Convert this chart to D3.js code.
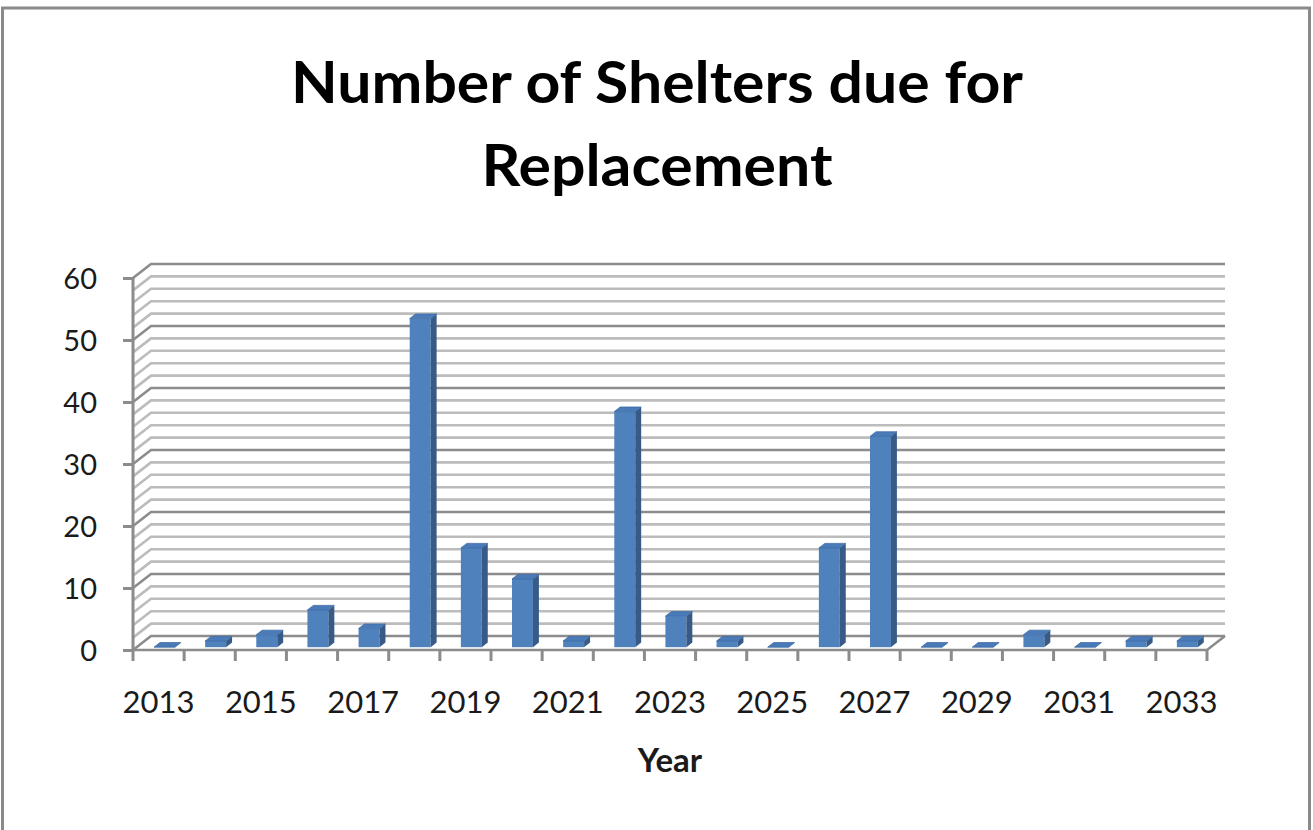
<!DOCTYPE html>
<html>
<head>
<meta charset="utf-8">
<script src="https://cdn.jsdelivr.net/npm/d3@7"></script>
<style>
  html, body { margin: 0; padding: 0; background: #fff; }
  svg { display: block; }
</style>
</head>
<body>
<script>
// ---- data ----
const years = ["2013","2014","2015","2016","2017","2018","2019","2020","2021","2022","2023",
               "2024","2025","2026","2027","2028","2029","2030","2031","2032","2033"];
const shelters = [0, 1, 2, 6, 3, 53, 16, 11, 1, 38, 5, 1, 0, 16, 34, 0, 0, 2, 0, 1, 1];
const yTicks = [0, 10, 20, 30, 40, 50, 60];
const yMinor = [2,4,6,8,12,14,16,18,22,24,26,28,32,34,36,38,42,44,46,48,52,54,56,58];
const xLabels = ["2013","2015","2017","2019","2021","2023","2025","2027","2029","2031","2033"];
const titleLines = ["Number of Shelters due for", "Replacement"];
const xTitle = "Year";

// ---- layout ----
const W = 1313, H = 830;
const DX = 18, DY = -14;  // depth vector of the 3D box
const svg = d3.select("body").append("svg").attr("width", W).attr("height", H);

svg.append("rect").attr("x", 2.5).attr("y", 8).attr("width", 1307).attr("height", 900)
  .attr("fill", "#fff").attr("stroke", "#8a8a8a").attr("stroke-width", 3);

const x = d3.scaleBand().domain(years).range([133, 1207]).paddingInner(0).paddingOuter(0);
const y = d3.scaleLinear().domain([0, 60]).range([650, 278]);
const bw = x.bandwidth();
const font = "Lato, 'Open Sans', sans-serif";

// title
const tt = svg.append("g");
[[titleLines[0], 103, 732], [titleLines[1], 186, 351]].forEach(([t, by, len]) => {
  tt.append("text").attr("x", 657).attr("y", by).attr("text-anchor", "middle")
    .attr("font-family", font).attr("font-weight", 700).attr("font-size", 57)
    .attr("fill", "#000").attr("textLength", len).attr("lengthAdjust", "spacingAndGlyphs")
    .text(t);
});

// walls gridlines
const grid = svg.append("g");
const allLines = yMinor.map(v => ({v, major: false})).concat(yTicks.map(v => ({v, major: true})));
allLines.forEach(d => {
  const yf = y(d.v);
  const col = d.major ? "#8c8c8c" : "#bcbcbc";
  grid.append("path")
    .attr("d", `M133,${yf} L${133 + DX},${yf + DY} L${1207 + DX},${yf + DY}`)
    .attr("fill", "none").attr("stroke", col).attr("stroke-width", d.major ? 2.6 : 2.6);
});

// floor edges
grid.append("path")
  .attr("d", `M133,${y(0)} L1207,${y(0)} L${1207 + DX},${y(0) + DY}`)
  .attr("fill", "none").attr("stroke", "#8c8c8c").attr("stroke-width", 2.6);

// y axis line and ticks
grid.append("line").attr("x1", 133).attr("x2", 133).attr("y1", y(60)).attr("y2", y(0))
  .attr("stroke", "#8c8c8c").attr("stroke-width", 3);
const yAxis = d3.axisLeft(y).tickValues(yTicks).tickSize(10).tickPadding(26);
const ya = svg.append("g").attr("transform", "translate(133,0)").call(yAxis);
ya.select(".domain").remove();
ya.selectAll(".tick line").attr("stroke", "#8c8c8c").attr("stroke-width", 3);
ya.selectAll(".tick text").attr("font-family", font).attr("font-size", 29).attr("fill", "#1a1a1a")
  .attr("dy", "0.36em");

// x axis ticks at band boundaries
const xa = svg.append("g");
const bounds = years.map(yr => x(yr)).concat([x(years[years.length - 1]) + bw]);
xa.selectAll("line.xt").data(bounds).join("line")
  .attr("x1", d => d).attr("x2", d => d).attr("y1", y(0)).attr("y2", y(0) + 11)
  .attr("stroke", "#8c8c8c").attr("stroke-width", 3);
xa.selectAll("text.xl").data(xLabels).join("text")
  .attr("x", d => x(d) + bw / 2).attr("y", 713).attr("text-anchor", "middle")
  .attr("font-family", font).attr("font-size", 31).attr("fill", "#1a1a1a").text(d => d);

// x title
svg.append("text").attr("x", 670).attr("y", 772).attr("text-anchor", "middle")
  .attr("font-family", font).attr("font-weight", 700).attr("font-size", 33).attr("fill", "#1a1a1a")
  .text(xTitle);

// bars
const F1 = 0.2, F2 = 0.33;
const bars = svg.append("g");
years.forEach((yr, i) => {
  const v = shelters[i];
  const x0 = x(yr) + 0.34 * bw + F1 * DX;
  const w = 0.41 * bw;
  const yT = y(v) + F1 * DY;
  const yB = y(0) + F1 * DY;
  const sx = F2 * DX, sy = F2 * DY;
  const g = bars.append("g");
  if (v > 0) {
    g.append("rect").attr("x", x0).attr("y", yT).attr("width", w).attr("height", yB - yT)
      .attr("fill", "#4f81bd");
    g.append("path")
      .attr("d", `M${x0 + w},${yT} L${x0 + w + sx},${yT + sy} L${x0 + w + sx},${yB + sy} L${x0 + w},${yB} Z`)
      .attr("fill", "#375a86");
  }
  g.append("path")
    .attr("d", `M${x0},${yT} L${x0 + w},${yT} L${x0 + w + sx},${yT + sy} L${x0 + sx},${yT + sy} Z`)
    .attr("fill", "#4a7bb8").attr("stroke", "#3e6ca5").attr("stroke-width", 0.8);
});
</script>
</body>
</html>
